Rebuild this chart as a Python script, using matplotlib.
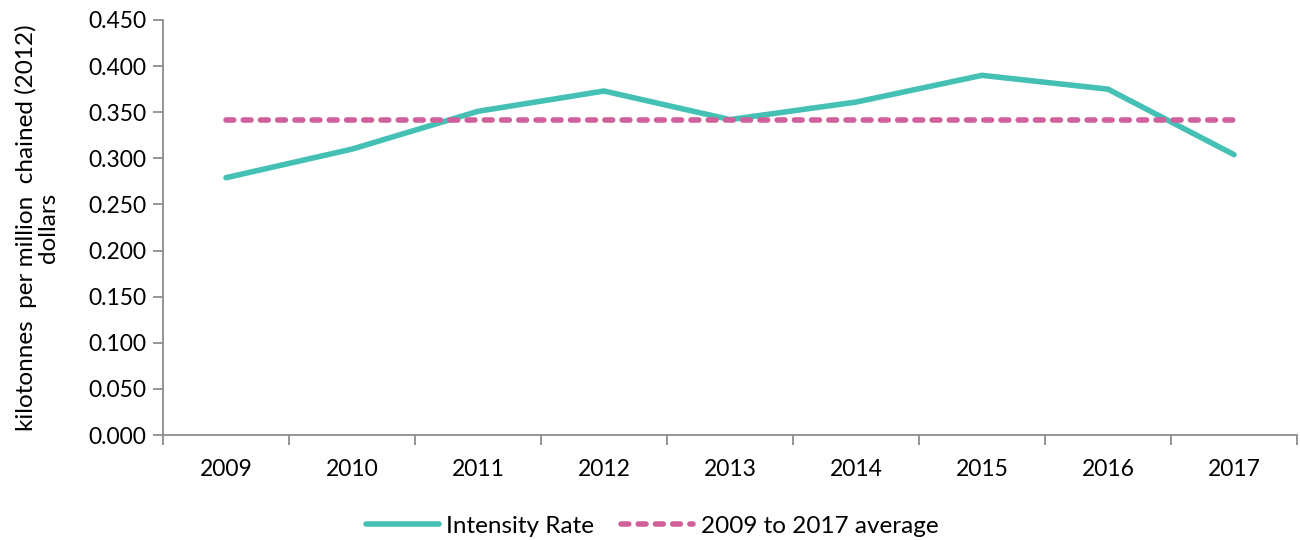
import matplotlib
matplotlib.use("Agg")
import matplotlib.pyplot as plt
from matplotlib.ticker import FixedLocator, FormatStrFormatter

years = ["2009", "2010", "2011", "2012", "2013", "2014", "2015", "2016", "2017"]
intensity = [0.279, 0.310, 0.351, 0.373, 0.342, 0.361, 0.390, 0.375, 0.304]
average = [0.342] * len(years)
y_label = "kilotonnes  per million  chained (2012)\ndollars"
series_names = ["Intensity Rate", "2009 to 2017 average"]

plt.rcParams['font.family'] = ['Lato', 'DejaVu Sans']

fig = plt.figure(figsize=(13, 5.4), dpi=100)
ax = fig.add_axes([163/1300, 1 - 435/540, (1297-163)/1300, (435-20)/540])

x = list(range(len(years)))
teal = "#44C1B4"
pink = "#D0609A"
ax.plot(x, intensity, color=teal, lw=4.0, solid_capstyle='round', solid_joinstyle='miter',
        label=series_names[0])
ax.plot(x, average, color=pink, lw=4.0, linestyle=(0, (1.4, 1.7)), dash_capstyle='round',
        label=series_names[1])

ax.set_xlim(-0.5, len(years) - 0.5)
ax.set_ylim(0, 0.45)
ax.set_yticks([i * 0.05 for i in range(10)])
ax.yaxis.set_major_formatter(FormatStrFormatter('%.3f'))
ax.set_xticks(x)
ax.set_xticklabels(years)
ax.xaxis.set_minor_locator(FixedLocator([i - 0.5 for i in range(len(years) + 1)]))

for s in ['top', 'right']:
    ax.spines[s].set_visible(False)
for s in ['left', 'bottom']:
    ax.spines[s].set_color('#8C8C8C')
    ax.spines[s].set_linewidth(1.3)

ax.tick_params(axis='y', which='major', length=7, width=1.3, color='#8C8C8C',
               labelsize=16.5, pad=5, labelcolor='black')
ax.tick_params(axis='x', which='major', length=0, labelsize=16.5, pad=17, labelcolor='black')
ax.tick_params(axis='x', which='minor', length=7, width=1.3, color='#8C8C8C')

fig.text(37/1300, 1 - 228/540, y_label, rotation=90, ha='center', va='center',
         multialignment='center', fontsize=17.5, linespacing=1.05)

leg = fig.legend(loc='center', bbox_to_anchor=(652/1300, 1 - 526/540), ncol=2,
                 frameon=False, fontsize=17.5, handlelength=3.0, handletextpad=0.3,
                 columnspacing=1.1)

fig.savefig("out.png", dpi=100)
